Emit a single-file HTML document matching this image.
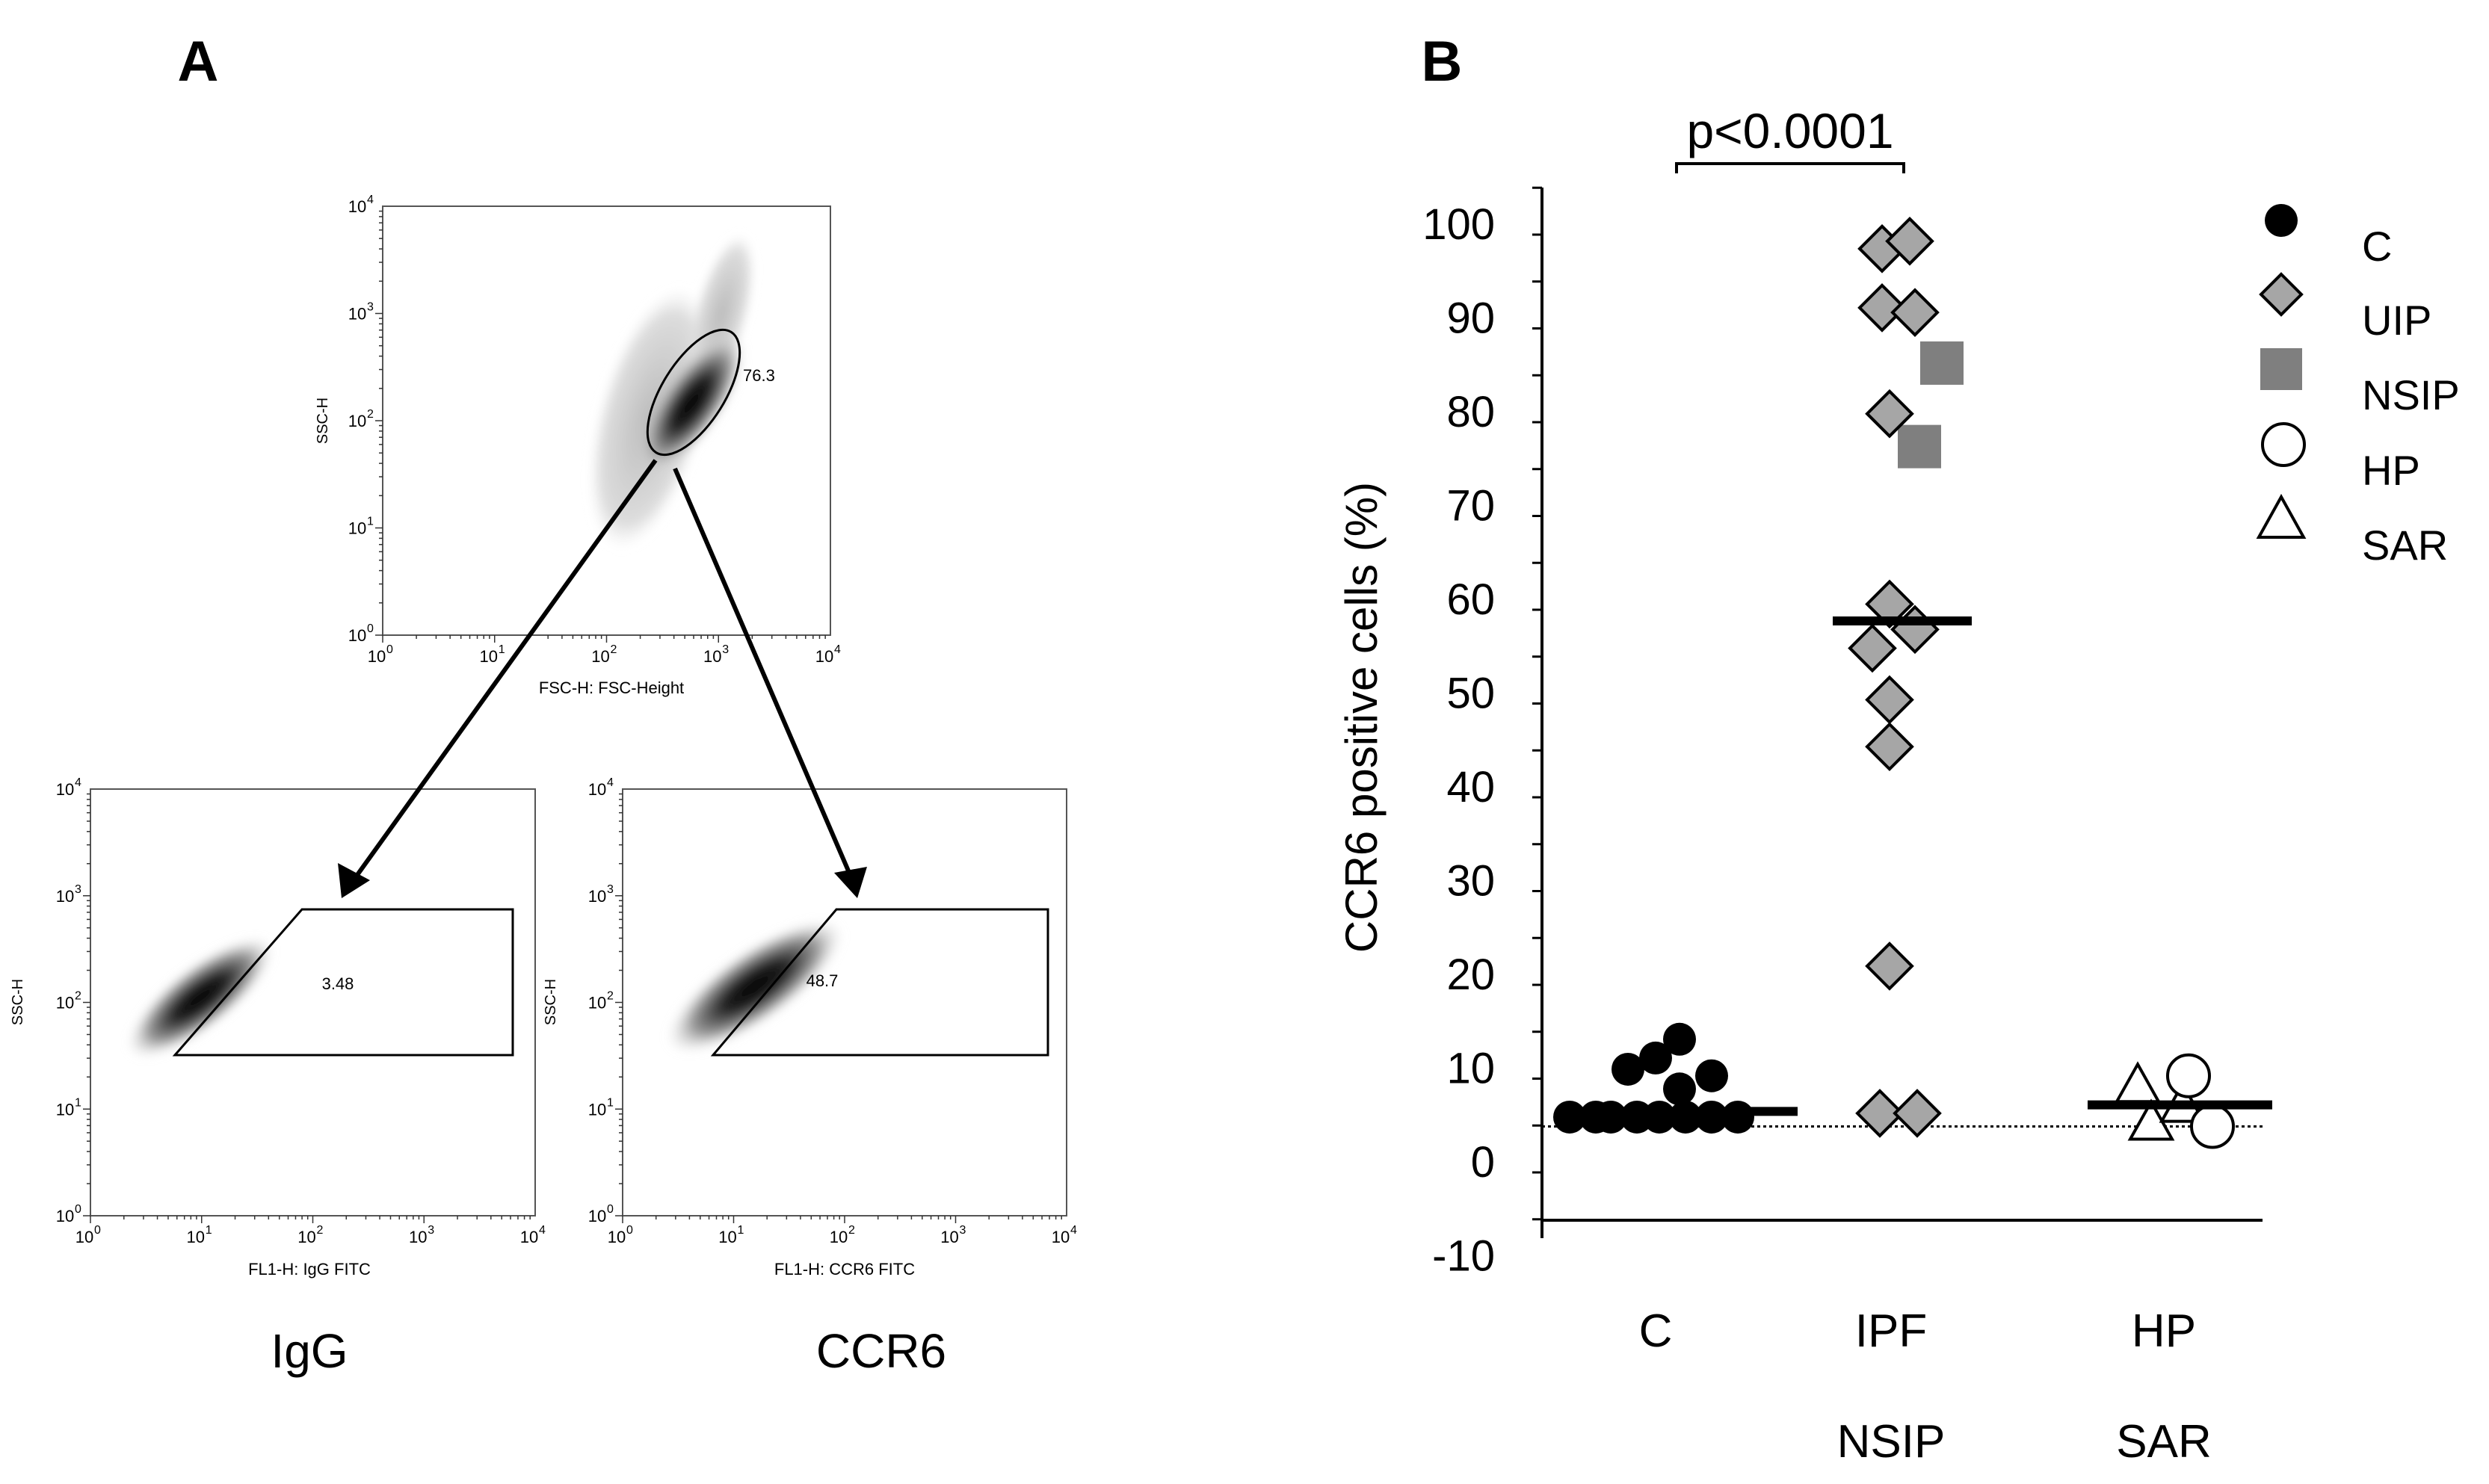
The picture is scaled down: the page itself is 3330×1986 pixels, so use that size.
<!DOCTYPE html>
<html><head><meta charset="utf-8"><style>
html,body{margin:0;padding:0;background:#fff}
svg{display:block}
text{font-family:"Liberation Sans",Arial,sans-serif}
</style></head><body>
<svg id="fig" width="3330" height="1986" viewBox="0 0 3330 1986" xmlns="http://www.w3.org/2000/svg">
<defs>
<radialGradient id="blob" cx="50%" cy="50%" r="50%">
<stop offset="0" stop-color="#000"/><stop offset="0.35" stop-color="#222"/><stop offset="0.7" stop-color="#999"/><stop offset="1" stop-color="#ddd" stop-opacity="0"/>
</radialGradient>
<radialGradient id="haze" cx="50%" cy="50%" r="50%">
<stop offset="0" stop-color="#bbb"/><stop offset="0.8" stop-color="#ddd"/><stop offset="1" stop-color="#eee" stop-opacity="0"/>
</radialGradient>
<filter id="soft"><feGaussianBlur stdDeviation="6"/></filter>
</defs>

<text x="265" y="108" font-size="76" font-weight="bold" text-anchor="middle">A</text>
<text x="1929" y="108" font-size="76" font-weight="bold" text-anchor="middle">B</text>

<!-- Panel A: top FSC/SSC plot -->
<g>
<g filter="url(#soft)">
<ellipse cx="870" cy="560" rx="70" ry="180" fill="url(#haze)" transform="rotate(15 870 560)"/>
<ellipse cx="965" cy="420" rx="35" ry="110" fill="url(#haze)" transform="rotate(15 965 420)"/>
<ellipse cx="925" cy="540" rx="42" ry="110" fill="url(#blob)" transform="rotate(35 925 540)"/>
</g>
<rect x="512" y="276" width="599" height="574" fill="none" stroke="#555" stroke-width="2"/>
<ellipse cx="928" cy="525" rx="42" ry="95" fill="none" stroke="#000" stroke-width="3" transform="rotate(32 928 525)"/>
<text x="994" y="510" font-size="22">76.3</text>
<text x="438" y="563" font-size="20" transform="rotate(-90 438 563)" text-anchor="middle">SSC-H</text>
<text x="818" y="928" font-size="22" text-anchor="middle">FSC-H: FSC-Height</text>
</g>
<g>
<g filter="url(#soft)"><ellipse cx="268" cy="1335" rx="42" ry="120" fill="url(#blob)" transform="rotate(52 268 1335)"/></g>
<rect x="121" y="1056" width="595" height="571" fill="none" stroke="#555" stroke-width="2"/>
<polygon points="234,1412 404,1217 686,1217 686,1412" fill="none" stroke="#000" stroke-width="3"/>
<text x="452" y="1324" font-size="22" text-anchor="middle">3.48</text>
<text x="30" y="1341" font-size="20" transform="rotate(-90 30 1341)" text-anchor="middle">SSC-H</text>
<text x="414" y="1706" font-size="22" text-anchor="middle">FL1-H: IgG FITC</text>
<text x="414" y="1830" font-size="64" text-anchor="middle">IgG</text>
</g>
<g>
<g filter="url(#soft)"><ellipse cx="1010" cy="1320" rx="48" ry="140" fill="url(#blob)" transform="rotate(55 1010 1320)"/></g>
<rect x="833" y="1056" width="594" height="571" fill="none" stroke="#555" stroke-width="2"/>
<polygon points="954,1412 1119,1217 1402,1217 1402,1412" fill="none" stroke="#000" stroke-width="3"/>
<text x="1100" y="1320" font-size="22" text-anchor="middle">48.7</text>
<text x="743" y="1341" font-size="20" transform="rotate(-90 743 1341)" text-anchor="middle">SSC-H</text>
<text x="1130" y="1706" font-size="22" text-anchor="middle">FL1-H: CCR6 FITC</text>
<text x="1179" y="1830" font-size="64" text-anchor="middle">CCR6</text>
</g>
<g id="logaxes"></g>
<g>
<line x1="877" y1="616" x2="475" y2="1175" stroke="#000" stroke-width="6"/>
<polygon points="457,1202 452,1155 495,1178" fill="#000"/>
<line x1="903" y1="627" x2="1137" y2="1170" stroke="#000" stroke-width="6"/>
<polygon points="1147,1202 1116,1168 1160,1160" fill="#000"/>
</g>

<!-- Panel B -->
<g id="chartB"></g>
</svg>
<script>
// ---- Panel B data ----
const categories = ["C", "IPF", "HP"];
const categorySub = ["", "NSIP", "SAR"];
const cValues = [5.9,5.9,5.9,5.9,5.9,5.9,5.9,5.9,11,12.2,14.2,10.3,8.9];
const cJitter = [-115,-80,-60,-25,5,40,75,110,-37,0,32,75,32];
const uipValues = [98.5,99.3,92.2,91.7,80.9,60.6,57.9,55.9,50.4,45.4,22,6.3,6.3];
const uipJitter = [-12,25,-12,32,-2,-2,32,-25,-2,-2,-2,-15,35];
const nsipValues = [86.3,77.4];
const nsipJitter = [68,38];
const hpValues = [10.3,4.9];
const hpJitter = [3,35];
const sarValues = [9.3,5.3,7.2];
const sarJitter = [-65,-47,-5];
const medians = [6.5,58.8,7.2];
const baselineValue = 4.9;
const yTicks = [100,90,80,70,60,50,40,30,20,10,0,-10];
const legendLabels = ["C","UIP","NSIP","HP","SAR"];

const NS="http://www.w3.org/2000/svg";
const g=document.getElementById('chartB');
function y(v){return 1569-12.55*v;}
const catX=[2215,2530,2925];
const labelX=[2215,2530,2895];
function mk(tag,attrs,parent){const e=document.createElementNS(NS,tag);for(const k in attrs)e.setAttribute(k,attrs[k]);(parent||g).appendChild(e);return e;}

// axes
let ax=mk('line',{x1:2063,y1:251,x2:2063,y2:1657,stroke:'#000','stroke-width':4});


let xa=mk('line',{x1:2061,y1:1633,x2:3027,y2:1633,stroke:'#000','stroke-width':4});


for(let v=-5;v<=105;v+=5){
  const t=mk('line',{x1:2050,y1:y(v),x2:2063,y2:y(v),stroke:'#000','stroke-width':3});
  
  
}
yTicks.forEach(v=>{
  const t=mk('text',{x:2000,y:y(v)+6,'font-size':58,'text-anchor':'end'});
  t.textContent=v;
  
  
});
let yt=mk('text',{x:1842,y:960,'font-size':60,'text-anchor':'middle',transform:'rotate(-90 1842 960)'});
yt.textContent='CCR6 positive cells (%)';


categories.forEach((c,i)=>{
  const t=mk('text',{x:labelX[i],y:1802,'font-size':62,'text-anchor':'middle'});
  t.textContent=c;
  
  
  if(categorySub[i]){
    const s=mk('text',{x:labelX[i],y:1950,'font-size':62,'text-anchor':'middle'});
    s.textContent=categorySub[i];
    
    
  }
});
// baseline dotted
let bl=mk('line',{x1:2063,y1:y(baselineValue),x2:3027,y2:y(baselineValue),stroke:'#000','stroke-width':3,'stroke-dasharray':'4 4'});


// p-value bracket
let br=mk('path',{d:'M2243 232 V219 H2547 V232',fill:'none',stroke:'#000','stroke-width':4});


let pv=mk('text',{x:2395,y:198,'font-size':66,'text-anchor':'middle'});
pv.textContent='p<0.0001';



function diamond(cx,cy,r){return `M${cx} ${cy-r} L${cx+r} ${cy} L${cx} ${cy+r} L${cx-r} ${cy} Z`;}
// C circles
cValues.forEach((v,i)=>{
  const e=mk('circle',{cx:catX[0]+cJitter[i],cy:y(v),r:22,fill:'#000'});
  
  
});
// NSIP squares
nsipValues.forEach((v,i)=>{
  const cx=catX[1]+nsipJitter[i];
  const e=mk('rect',{x:cx-29,y:y(v)-29,width:58,height:58,fill:'#7f7f7f'});
  
  
});
// UIP diamonds
uipValues.forEach((v,i)=>{
  const e=mk('path',{d:diamond(catX[1]+uipJitter[i],y(v),30),fill:'#a6a6a6',stroke:'#000','stroke-width':4});
  
  
});
// SAR triangles
sarValues.forEach((v,i)=>{
  const cx=catX[2]+sarJitter[i],cy=y(v);
  const e=mk('path',{d:`M${cx} ${cy-28} L${cx+28} ${cy+22} L${cx-28} ${cy+22} Z`,fill:'#fff',stroke:'#000','stroke-width':4});
  
  
});
// HP circles
hpValues.forEach((v,i)=>{
  const e=mk('circle',{cx:catX[2]+hpJitter[i],cy:y(v),r:28,fill:'#fff',stroke:'#000','stroke-width':4});
  
  
});
// medians
const medExt=[[-125,190],[-78,108],[-132,115]];
medians.forEach((v,i)=>{
  const e=mk('line',{x1:catX[i]+medExt[i][0],y1:y(v),x2:catX[i]+medExt[i][1],y2:y(v),stroke:'#000','stroke-width':12});
  
  
});
// legend
const lx=3052, ly=[295,394,494,595,695];
legendLabels.forEach((lab,i)=>{
  const cy=ly[i];let e;
  if(i===0) e=mk('circle',{cx:lx,cy:cy,r:22,fill:'#000'});
  else if(i===1) e=mk('path',{d:diamond(lx,cy,27),fill:'#a6a6a6',stroke:'#000','stroke-width':4});
  else if(i===2) e=mk('rect',{x:lx-28,y:cy-28,width:56,height:56,fill:'#7f7f7f'});
  else if(i===3) e=mk('circle',{cx:lx+3,cy:cy,r:28,fill:'#fff',stroke:'#000','stroke-width':4});
  else e=mk('path',{d:`M${lx} ${cy-30} L${lx+30} ${cy+24} L${lx-30} ${cy+24} Z`,fill:'#fff',stroke:'#000','stroke-width':4});
  
  
  const t=mk('text',{x:3160,y:cy+54,'font-size':56});
  t.textContent=lab;
  
  
});

// ---- Panel A log axis ticks ----
const logLabels=["0","1","2","3","4"];
const la=document.getElementById('logaxes');
const boxes=[[512,276,1111,850],[121,1056,716,1627],[833,1056,1427,1627]];
boxes.forEach(b=>{
  const [x0,y0,x1,y1]=b;
  for(let d=0;d<4;d++){
    for(let m=1;m<10;m++){
      const f=(d+Math.log10(m))/4;
      const len=m===1?10:5;
      mk('line',{x1:x0+f*(x1-x0),y1:y1,x2:x0+f*(x1-x0),y2:y1+len,stroke:'#333','stroke-width':1.5},la);
      mk('line',{x1:x0,y1:y1-f*(y1-y0),x2:x0-len,y2:y1-f*(y1-y0),stroke:'#333','stroke-width':1.5},la);
    }
  }
  logLabels.forEach((p,i)=>{
    const f=i/4;
    const tx=mk('text',{x:x0+f*(x1-x0)-8,y:y1+36,'font-size':22,'text-anchor':'middle'},la);
    tx.textContent='10';
    
    
    const sx=mk('text',{x:x0+f*(x1-x0)+5,y:y1+24,'font-size':16},la);
    sx.textContent=p;
    const ty=mk('text',{x:x0-34,y:y1-f*(y1-y0)+8,'font-size':22,'text-anchor':'middle'},la);
    ty.textContent='10';
    
    
    const sy=mk('text',{x:x0-21,y:y1-f*(y1-y0)-4,'font-size':16},la);
    sy.textContent=p;
  });
});
</script>
</body></html>
